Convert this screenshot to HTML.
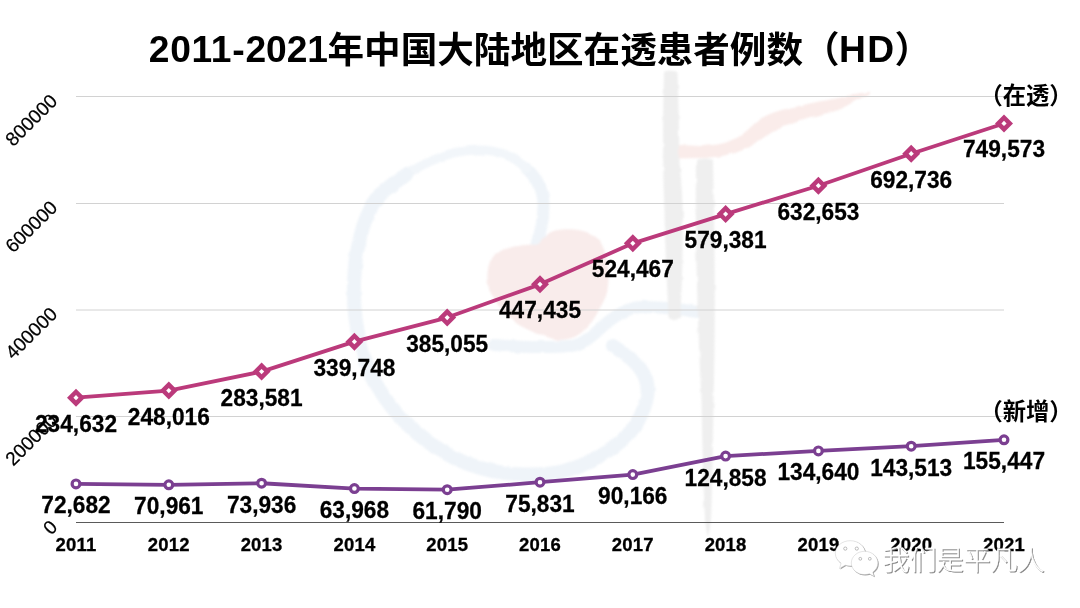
<!DOCTYPE html>
<html lang="zh-CN"><head><meta charset="utf-8"><title>2011-2021年中国大陆地区在透患者例数（HD）</title>
<style>
html,body{margin:0;padding:0;background:#fff;}
body{width:1080px;height:608px;overflow:hidden;position:relative;font-family:"Liberation Sans","Noto Sans CJK SC",sans-serif;}
svg{position:absolute;left:0;top:0;display:block}
text{font-family:"Liberation Sans","Noto Sans CJK SC",sans-serif;}
.b{font-weight:700}
.t{font-size:37px;font-weight:700}
.d{font-size:22.7px;font-weight:700;text-anchor:middle;stroke:#000;stroke-width:0.25px}
.x{font-size:18.5px;font-weight:700;text-anchor:middle;stroke:#000;stroke-width:0.3px;letter-spacing:0.2px}
.y{font-size:19.1px;text-anchor:end;stroke:#000;stroke-width:0.2px}
</style></head><body>
<svg width="1080" height="608" viewBox="0 0 1080 608">
<rect width="1080" height="608" fill="#fff"/>

<defs><filter id="sf" x="-5%" y="-5%" width="110%" height="110%" color-interpolation-filters="sRGB">
<feTurbulence type="fractalNoise" baseFrequency="0.08" numOctaves="2" seed="7" result="n"/>
<feDisplacementMap in="SourceGraphic" in2="n" scale="3" xChannelSelector="R" yChannelSelector="G" result="d"/>
<feGaussianBlur in="d" stdDeviation="0.9"/>
</filter></defs>
<g filter="url(#sf)">
<path d="M536.5 244C541 232 543.5 218 543.5 205C543.5 190 537 178 526.5 168.5" fill="none" stroke="#EFF4F9" stroke-width="12" stroke-linecap="round"/>
<path d="M526.5 168.5C519 161.5 512 157 505 154.5C497 151.5 488 150 480 150C471 150 463 151 455 152.5C446 154.5 438 157.5 430 161.5C421 165.5 413 170 406 175" fill="none" stroke="#F2F6FA" stroke-width="9" stroke-linecap="round"/>
<path d="M406 175C398 180 391 185 384 191C377 198 371.500 206 367.500 215C363.500 224 361 233 359 242.500C357 251 355.500 259 355 267.500C353.500 285 353.500 302 355.500 318C357.500 334 361 348 366 362C372 378 380 392 390 405C401 419 414 432 428 442C443 453 460 462 479 467.500C494 472 509 474 524 474.500C539 475 554 474 568 470C585 465 600 457.500 613 447.500C626 438 636 427 641 415C646 404 648.500 395 647.500 387C646.500 377 641.500 369 635 362.500C628.500 356 620.500 351 613 346" fill="none" stroke="#EFF4F9" stroke-width="14" stroke-linecap="round"/>
<path d="M494 345C520 347 550 348 574 345.500C585 343 595 334 603 326C612 318 620 312 633 308C645 305 680 309 697 312" fill="none" stroke="#EFF4F9" stroke-width="12" stroke-linecap="round"/>
<path d="M487.500 280C487 270 489 262 492 258C497 252 505 249 512 247C522 244.500 530 245 537 244.500C541 240 544 237 548 234C552 231 556 230 562 229.500C570 229 577 229.500 583 231C590 233 594 235 597 238C601 242 603 246 604.500 251C607 258 608 266 608.500 276C609 290 605 300 600 308C596 316 592 322 588 326C582 333 576 337 570 338.500C563 340.500 556 340 550 338C540 335 530 331 519 325C510 319 503 312 499 306C493 298 488 290 487.500 280Z" fill="#F9ECEB"/>
<path d="M664 72C668 70 674 70 677.5 72C678.5 100 679 130 679.4 160C681 180 682.5 195 682.7 210C683 250 682 290 680 318C677 322 671 322 668.5 318C667.5 290 665 250 664.5 210C663 180 662.5 130 664 72Z" fill="#EFEFEF"/>
<path d="M696 160C702 158 708 158 713 160C715 250 715.5 330 713.5 400C713 450 712 500 711 520C710 530 709 536 707.5 536C706 530 705 522 704.5 510C703 470 702 430 701.5 400C698 330 695 250 696 160Z" fill="#EFEFEF"/>
<path d="M679 145L700 146C710 146 725 144 735 139C745 134 752 125 760 119C775 110 790 108 800 106C815 102 830 100 840 97.6C850 95 860 92.7 870 92L870 94C860 98 850 104 840 109.4C825 114 810 117 800 120C790 123 782 127 778 129C770 133 765 137 760 140C752 146 745 150 735 153C725 156 710 158 700 158L679 158.6Z" fill="#FAECEA"/>
</g>

<line x1="76.0" x2="1004.0" y1="416.50" y2="416.50" stroke="#d2d2d2" stroke-width="1"/>
<line x1="76.0" x2="1004.0" y1="310.00" y2="310.00" stroke="#d2d2d2" stroke-width="1"/>
<line x1="76.0" x2="1004.0" y1="203.50" y2="203.50" stroke="#d2d2d2" stroke-width="1"/>
<line x1="76.0" x2="1004.0" y1="96.50" y2="96.50" stroke="#d2d2d2" stroke-width="1"/>
<line x1="76.0" x2="1004.0" y1="522.5" y2="522.5" stroke="#5a5a5a" stroke-width="1"/>
<text class="t" y="62.2"><tspan x="148.8" font-size="37.2" textLength="82.6" lengthAdjust="spacing">2011</tspan><tspan x="232.3" font-size="37.2" textLength="12.5" lengthAdjust="spacingAndGlyphs">-</tspan><tspan x="245.4" font-size="37.2" textLength="82.6" lengthAdjust="spacing">2021</tspan><tspan x="327.5" y="63" font-size="36.6">年中国大陆地区在透患者例数（</tspan><tspan x="839" y="62.2" font-size="37.2" textLength="55" lengthAdjust="spacing">HD</tspan><tspan x="894.6" y="63" font-size="36.6">）</tspan></text>
<text class="y" transform="translate(58.4,528.30) rotate(-45)">0</text>
<text class="y" transform="translate(58.4,421.80) rotate(-45)">200000</text>
<text class="y" transform="translate(58.4,315.30) rotate(-45)">400000</text>
<text class="y" transform="translate(58.4,208.80) rotate(-45)">600000</text>
<text class="y" transform="translate(58.4,102.30) rotate(-45)">800000</text>
<polyline points="76.00,483.90 168.80,484.81 261.60,483.23 354.40,488.54 447.20,489.70 540.00,482.22 632.80,474.59 725.60,456.11 818.40,450.90 911.20,446.18 1004.00,439.82" fill="none" stroke="#7B3F91" stroke-width="3.8" stroke-linejoin="round" stroke-linecap="round"/>
<circle cx="76.00" cy="483.90" r="3.9" fill="#fff" stroke="#7B3F91" stroke-width="3.2"/>
<circle cx="168.80" cy="484.81" r="3.9" fill="#fff" stroke="#7B3F91" stroke-width="3.2"/>
<circle cx="261.60" cy="483.23" r="3.9" fill="#fff" stroke="#7B3F91" stroke-width="3.2"/>
<circle cx="354.40" cy="488.54" r="3.9" fill="#fff" stroke="#7B3F91" stroke-width="3.2"/>
<circle cx="447.20" cy="489.70" r="3.9" fill="#fff" stroke="#7B3F91" stroke-width="3.2"/>
<circle cx="540.00" cy="482.22" r="3.9" fill="#fff" stroke="#7B3F91" stroke-width="3.2"/>
<circle cx="632.80" cy="474.59" r="3.9" fill="#fff" stroke="#7B3F91" stroke-width="3.2"/>
<circle cx="725.60" cy="456.11" r="3.9" fill="#fff" stroke="#7B3F91" stroke-width="3.2"/>
<circle cx="818.40" cy="450.90" r="3.9" fill="#fff" stroke="#7B3F91" stroke-width="3.2"/>
<circle cx="911.20" cy="446.18" r="3.9" fill="#fff" stroke="#7B3F91" stroke-width="3.2"/>
<circle cx="1004.00" cy="439.82" r="3.9" fill="#fff" stroke="#7B3F91" stroke-width="3.2"/>
<polyline points="76.00,397.66 168.80,390.53 261.60,371.59 354.40,341.68 447.20,317.56 540.00,284.34 632.80,243.32 725.60,214.08 818.40,185.71 911.20,153.72 1004.00,123.45" fill="none" stroke="#BB3A7B" stroke-width="3.8" stroke-linejoin="round" stroke-linecap="round"/>
<path d="M76.00 388.66L85.00 397.66L76.00 406.66L67.00 397.66Z" fill="#BB3A7B"/>
<path d="M76.00 395.06L78.60 397.66L76.00 400.26L73.40 397.66Z" fill="#fff"/>
<path d="M168.80 381.53L177.80 390.53L168.80 399.53L159.80 390.53Z" fill="#BB3A7B"/>
<path d="M168.80 387.93L171.40 390.53L168.80 393.13L166.20 390.53Z" fill="#fff"/>
<path d="M261.60 362.59L270.60 371.59L261.60 380.59L252.60 371.59Z" fill="#BB3A7B"/>
<path d="M261.60 368.99L264.20 371.59L261.60 374.19L259.00 371.59Z" fill="#fff"/>
<path d="M354.40 332.68L363.40 341.68L354.40 350.68L345.40 341.68Z" fill="#BB3A7B"/>
<path d="M354.40 339.08L357.00 341.68L354.40 344.28L351.80 341.68Z" fill="#fff"/>
<path d="M447.20 308.56L456.20 317.56L447.20 326.56L438.20 317.56Z" fill="#BB3A7B"/>
<path d="M447.20 314.96L449.80 317.56L447.20 320.16L444.60 317.56Z" fill="#fff"/>
<path d="M540.00 275.34L549.00 284.34L540.00 293.34L531.00 284.34Z" fill="#BB3A7B"/>
<path d="M540.00 281.74L542.60 284.34L540.00 286.94L537.40 284.34Z" fill="#fff"/>
<path d="M632.80 234.32L641.80 243.32L632.80 252.32L623.80 243.32Z" fill="#BB3A7B"/>
<path d="M632.80 240.72L635.40 243.32L632.80 245.92L630.20 243.32Z" fill="#fff"/>
<path d="M725.60 205.08L734.60 214.08L725.60 223.08L716.60 214.08Z" fill="#BB3A7B"/>
<path d="M725.60 211.48L728.20 214.08L725.60 216.68L723.00 214.08Z" fill="#fff"/>
<path d="M818.40 176.71L827.40 185.71L818.40 194.71L809.40 185.71Z" fill="#BB3A7B"/>
<path d="M818.40 183.11L821.00 185.71L818.40 188.31L815.80 185.71Z" fill="#fff"/>
<path d="M911.20 144.72L920.20 153.72L911.20 162.72L902.20 153.72Z" fill="#BB3A7B"/>
<path d="M911.20 151.12L913.80 153.72L911.20 156.32L908.60 153.72Z" fill="#fff"/>
<path d="M1004.00 114.45L1013.00 123.45L1004.00 132.45L995.00 123.45Z" fill="#BB3A7B"/>
<path d="M1004.00 120.85L1006.60 123.45L1004.00 126.05L1001.40 123.45Z" fill="#fff"/>
<text class="d" transform="translate(76.00,431.66) scale(1,1.04)">234,632</text>
<text class="d" transform="translate(168.80,424.53) scale(1,1.04)">248,016</text>
<text class="d" transform="translate(261.60,405.59) scale(1,1.04)">283,581</text>
<text class="d" transform="translate(354.40,375.68) scale(1,1.04)">339,748</text>
<text class="d" transform="translate(447.20,351.56) scale(1,1.04)">385,055</text>
<text class="d" transform="translate(540.00,318.34) scale(1,1.04)">447,435</text>
<text class="d" transform="translate(632.80,277.32) scale(1,1.04)">524,467</text>
<text class="d" transform="translate(725.60,248.08) scale(1,1.04)">579,381</text>
<text class="d" transform="translate(818.40,219.71) scale(1,1.04)">632,653</text>
<text class="d" transform="translate(911.20,187.72) scale(1,1.04)">692,736</text>
<text class="d" transform="translate(1004.00,157.45) scale(1,1.04)">749,573</text>
<text class="d" transform="translate(76.00,513.30) scale(1,1.04)">72,682</text>
<text class="d" transform="translate(168.80,514.21) scale(1,1.04)">70,961</text>
<text class="d" transform="translate(261.60,512.63) scale(1,1.04)">73,936</text>
<text class="d" transform="translate(354.40,517.94) scale(1,1.04)">63,968</text>
<text class="d" transform="translate(447.20,519.10) scale(1,1.04)">61,790</text>
<text class="d" transform="translate(540.00,511.62) scale(1,1.04)">75,831</text>
<text class="d" transform="translate(632.80,503.99) scale(1,1.04)">90,166</text>
<text class="d" transform="translate(725.60,485.51) scale(1,1.04)">124,858</text>
<text class="d" transform="translate(818.40,480.30) scale(1,1.04)">134,640</text>
<text class="d" transform="translate(911.20,475.58) scale(1,1.04)">143,513</text>
<text class="d" transform="translate(1004.00,469.22) scale(1,1.04)">155,447</text>
<text class="x" transform="translate(76.00,551.3) scale(1,1.04)">2011</text>
<text class="x" transform="translate(168.80,551.3) scale(1,1.04)">2012</text>
<text class="x" transform="translate(261.60,551.3) scale(1,1.04)">2013</text>
<text class="x" transform="translate(354.40,551.3) scale(1,1.04)">2014</text>
<text class="x" transform="translate(447.20,551.3) scale(1,1.04)">2015</text>
<text class="x" transform="translate(540.00,551.3) scale(1,1.04)">2016</text>
<text class="x" transform="translate(632.80,551.3) scale(1,1.04)">2017</text>
<text class="x" transform="translate(725.60,551.3) scale(1,1.04)">2018</text>
<text class="x" transform="translate(818.40,551.3) scale(1,1.04)">2019</text>
<text class="x" transform="translate(911.20,551.3) scale(1,1.04)">2020</text>
<text class="x" transform="translate(1004.00,551.3) scale(1,1.04)">2021</text>
<text class="b" font-size="23.3" x="979.4" y="104.4">（在透）</text>
<text class="b" font-size="23.3" x="979.4" y="420.4">（新增）</text>
<g fill="#8a8a8a" fill-opacity="0.8" transform="translate(0.900,0.900)">
<path d="M850.3 540.7c8.3 0 15 5.6 15 12.6s-6.700 12.600-15 12.600c-1.800 0-3.500-0.300-5.100-0.700l-5.700 3.300 1.600-5.200c-3.500-2.300-5.800-5.900-5.800-10 0-7 6.700-12.600 15-12.600z"/>
</g>
<g fill="#fff" stroke="#b5b5b5" stroke-width="0.6" stroke-opacity="0.6">
<path d="M850.3 540.7c8.3 0 15 5.6 15 12.6s-6.700 12.600-15 12.600c-1.800 0-3.500-0.300-5.100-0.700l-5.700 3.300 1.600-5.200c-3.500-2.300-5.800-5.900-5.800-10 0-7 6.700-12.600 15-12.600z"/>
</g>
<g fill="#8a8a8a" fill-opacity="0.8" transform="translate(0.900,0.900)">
<path d="M864.600 551.300c7.300 0 13.300 5.200 13.300 11.700 0 3.700-2 7-5.100 9.200l1.300 4.200-4.700-2.600c-1.500 0.500-3.100 0.800-4.800 0.800-7.300 0-13.300-5.200-13.300-11.600s6-11.700 13.300-11.700z"/>
</g>
<g fill="#fff" stroke="#b5b5b5" stroke-width="0.6" stroke-opacity="0.6">
<path d="M864.600 551.300c7.300 0 13.300 5.200 13.300 11.700 0 3.700-2 7-5.100 9.200l1.300 4.200-4.700-2.600c-1.500 0.500-3.100 0.800-4.800 0.800-7.300 0-13.300-5.200-13.300-11.600s6-11.700 13.300-11.700z"/>
</g>
<g fill="#fff" stroke="#999" stroke-width="0.8" stroke-opacity="0.8">
<circle cx="845.3" cy="548.6" r="1.600"/><circle cx="856.8" cy="548.600" r="1.600"/>
<circle cx="860.3" cy="558.800" r="1.400"/><circle cx="869.8" cy="558.800" r="1.400"/>
</g>
<defs><filter id="ts" x="-5%" y="-20%" width="110%" height="140%" color-interpolation-filters="sRGB"><feOffset in="SourceAlpha" dx="1.1" dy="1.1" result="o"/><feFlood flood-color="#7a7a7a" flood-opacity="0.9"/><feComposite in2="o" operator="in" result="sh"/><feMerge><feMergeNode in="sh"/><feMergeNode in="SourceGraphic"/></feMerge></filter></defs>
<text x="882.500" y="569.500" font-size="27" font-weight="300" fill="#fff" stroke="#fff" stroke-width="0.3" filter="url(#ts)">我们是平凡人</text>

</svg></body></html>
